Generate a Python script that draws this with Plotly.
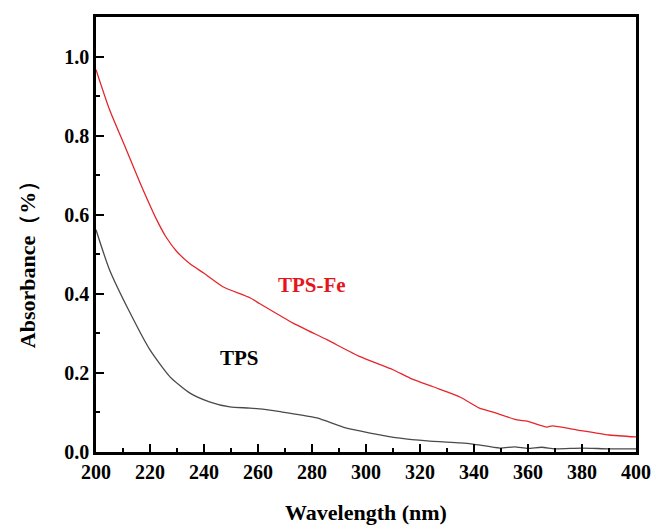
import plotly.graph_objects as go

# UV-Vis absorbance spectra
tps_fe_nm = [200, 205, 210.7, 216.3, 222.5, 226, 229.9, 234.8, 240, 247, 257, 260.7, 273, 285.5,
             297.8, 310, 316.3, 324.8, 334.8, 342, 347, 356, 359.6, 367, 369, 378, 390, 400]
tps_fe_abs = [0.967, 0.866, 0.773, 0.681, 0.587, 0.543, 0.507, 0.476, 0.452, 0.418, 0.39, 0.375,
              0.326, 0.284, 0.241, 0.208, 0.187, 0.165, 0.139, 0.111, 0.101, 0.081, 0.078, 0.063,
              0.066, 0.056, 0.043, 0.038]

tps_nm = [200, 205, 212.6, 220, 227.4, 234.8, 242, 249.6, 257, 264.4, 269, 281.8, 291.5,
          301.5, 312.6, 322.6, 334.8, 339.6, 349.6, 355, 360, 365, 370, 380, 390, 400]
tps_abs = [0.562, 0.461, 0.352, 0.258, 0.19, 0.149, 0.127, 0.114, 0.111, 0.106, 0.101, 0.086,
           0.063, 0.048, 0.035, 0.028, 0.023, 0.02, 0.01, 0.013, 0.009, 0.012, 0.008, 0.01,
           0.008, 0.008]

x_ticks = [200, 220, 240, 260, 280, 300, 320, 340, 360, 380, 400]
y_ticks = [0.0, 0.2, 0.4, 0.6, 0.8, 1.0]

serif = "Times New Roman, Liberation Serif, serif"

fig = go.Figure()
fig.add_trace(go.Scatter(x=tps_nm, y=tps_abs, mode="lines",
                         line=dict(color="#4a4a4a", width=1.3, shape="spline", smoothing=0.6),
                         name="TPS"))
fig.add_trace(go.Scatter(x=tps_fe_nm, y=tps_fe_abs, mode="lines",
                         line=dict(color="#e5262b", width=1.3, shape="spline", smoothing=0.6),
                         name="TPS-Fe"))

# series labels
fig.add_annotation(x=280, y=0.423, text="<b>TPS-Fe</b>", showarrow=False,
                   font=dict(family=serif, size=21, color="#e5161b"))
fig.add_annotation(x=253.3, y=0.238, text="<b>TPS</b>", showarrow=False,
                   font=dict(family=serif, size=21, color="#000000"))

# axis titles
fig.add_annotation(xref="paper", yref="paper", x=0.5, y=-0.138, text="<b>Wavelength (nm)</b>",
                   showarrow=False, xanchor="center", yanchor="middle",
                   font=dict(family=serif, size=22, color="black"))
fig.add_annotation(xref="paper", yref="paper", x=-0.128, y=0.443, text="<b>Absorbance（%）</b>",
                   showarrow=False, xanchor="center", yanchor="middle", textangle=-90,
                   font=dict(family=serif, size=22, color="black"))

axis_common = dict(
    showgrid=False, zeroline=False, showline=True, linecolor="black", linewidth=2.5,
    mirror=True, ticks="inside", ticklen=8, tickwidth=2, tickcolor="black", automargin=False,
    tickfont=dict(family=serif, size=20, color="black", weight="bold"),
)

fig.update_xaxes(range=[200, 400], tickvals=x_ticks, **axis_common,
                 minor=dict(ticks="inside", ticklen=4, tickwidth=2, dtick=10, tick0=200,
                            tickcolor="black"))
fig.update_yaxes(range=[0, 1.1], tickvals=y_ticks, tickformat=".1f", **axis_common,
                 minor=dict(ticks="inside", ticklen=4, tickwidth=2, dtick=0.1, tick0=0,
                            tickcolor="black"))

fig.update_layout(
    width=656, height=525, showlegend=False,
    margin=dict(l=96, r=20, t=17, b=73),
    plot_bgcolor="white", paper_bgcolor="white",
)

fig.write_html("out.html")
